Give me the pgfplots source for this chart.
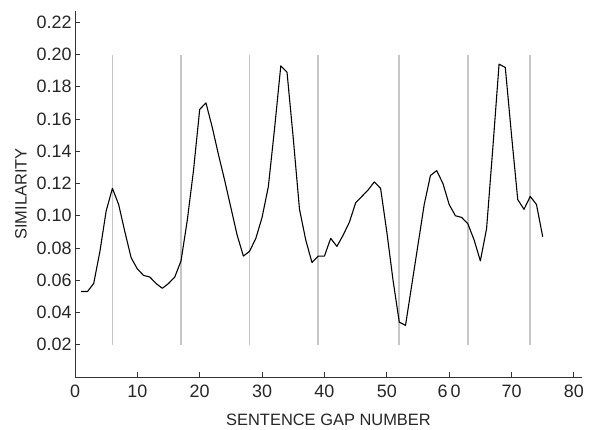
\documentclass[border=0pt]{standalone}
\usepackage{pgfplots}
\pgfplotsset{compat=1.18}
\usepackage{fontspec}
\setmainfont{Liberation Sans}

\pgfplotstableread{
x y
1 0.053
2 0.053
3 0.058
4 0.078
5 0.103
6 0.117
7 0.107
8 0.090
9 0.074
10 0.067
11 0.063
12 0.062
13 0.058
14 0.055
15 0.058
16 0.062
17 0.072
18 0.097
19 0.128
20 0.166
21 0.170
22 0.155
23 0.138
24 0.122
25 0.105
26 0.088
27 0.075
28 0.078
29 0.086
30 0.099
31 0.118
32 0.154
33 0.193
34 0.189
35 0.148
36 0.104
37 0.085
38 0.071
39 0.075
40 0.075
41 0.086
42 0.081
43 0.088
44 0.096
45 0.108
46 0.112
47 0.116
48 0.121
49 0.117
50 0.090
51 0.060
52 0.034
53 0.032
54 0.057
55 0.082
56 0.107
57 0.125
58 0.128
59 0.120
60 0.107
61 0.100
62 0.099
63 0.095
64 0.085
65 0.072
66 0.092
67 0.142
68 0.194
69 0.192
70 0.150
71 0.110
72 0.104
73 0.112
74 0.107
75 0.087
}\simdata

\begin{document}
\begin{tikzpicture}
\begin{axis}[
    name=ax,
    scale only axis,
    width=507bp, height=366bp,
    xmin=0, xmax=81.3,
    ymin=0, ymax=0.227,
    axis lines=left,
    axis line style={-, black!80, line width=0.9pt},
    xtick={0,10,...,80},
    xticklabels={0,10,20,30,40,50,6\,0,70,80},
    ytick={0.02,0.04,...,0.221},
    yticklabel style={/pgf/number format/.cd, fixed, fixed zerofill, precision=2},
    /pgf/number format/assume math mode=true,
    tick align=inside,
    major tick length=5bp,
    tick style={black!80, line width=0.8pt},
    ticklabel style={font=\fontsize{18}{21}\selectfont, black!85},
    xticklabel style={yshift=-4bp},
    xlabel={SENTENCE GAP NUMBER},
    ylabel={SIMILARITY},
    label style={font=\fontsize{16.5}{19}\selectfont, black!85},
    xlabel style={yshift=-10bp},
    ylabel style={yshift=3bp},
    clip=false,
]
\addplot[gray!45, line width=1.7pt, unbounded coords=jump] coordinates {
    (6,0.02) (6,0.20) (6,nan)
    (17,0.02) (17,0.20) (17,nan)
    (28,0.02) (28,0.20) (28,nan)
    (39,0.02) (39,0.20) (39,nan)
    (52,0.02) (52,0.20) (52,nan)
    (63,0.02) (63,0.20) (63,nan)
    (73,0.02) (73,0.20)
};
\addplot[black, line width=1.1pt, line join=round] table[x=x, y=y] {\simdata};
\end{axis}
\pgfresetboundingbox
\path[use as bounding box] (ax.south west) ++(-75bp,-53bp) rectangle ([shift={(10bp,11bp)}]ax.north east);
\end{tikzpicture}
\end{document}
